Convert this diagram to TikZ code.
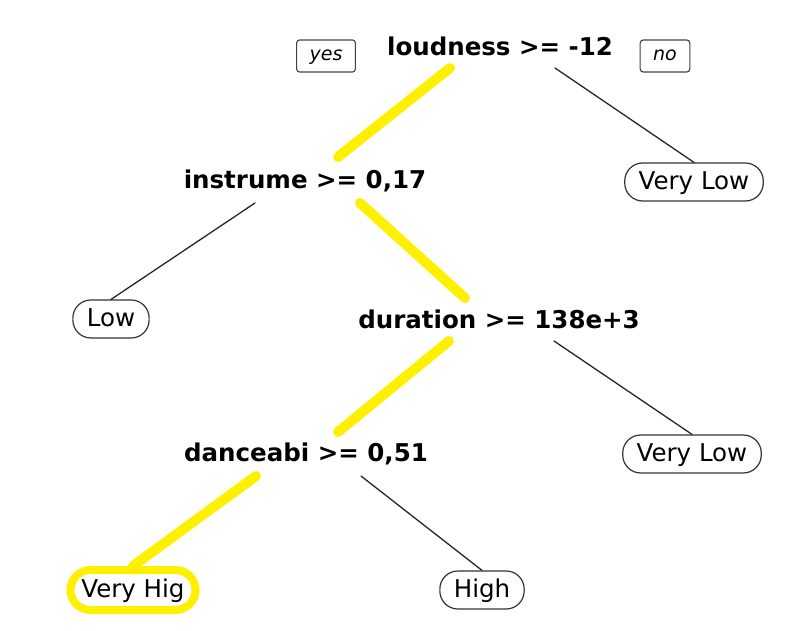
\documentclass[tikz,border=0pt]{standalone}
\usepackage{fontspec}
\setmainfont{DejaVu Sans}
\definecolor{hilite}{RGB}{255,240,0}

\begin{document}
\begin{tikzpicture}[
                x = 1pt, y = -1pt, % pixel grid, y going down
                line cap = round,
                split/.style = {font=\fontsize{24.5}{29}\selectfont\bfseries, inner sep=0pt},
                leaf/.style = {draw=black!80, line width=1.2pt, rounded corners=18pt,
                    font=\fontsize{24.5}{29}\selectfont, text height=19pt, text depth=4pt,
                    minimum height=38pt, inner xsep=14pt, inner ysep=0pt},
                tag/.style = {draw=black!75, line width=1.1pt, rounded corners=3pt,
                    font=\fontsize{19}{22}\selectfont\itshape, text height=14pt, text depth=4pt,
                    minimum height=32pt, inner xsep=13pt, inner ysep=0pt},
                branch/.style = {draw=black!85, line width=1.3pt},
                route/.style = {draw=hilite, line width=10pt}
            ]

            \useasboundingbox (0,0) rectangle (790,631);

            % splits
            \node[split] (loud) at (500,46) {loudness >= -12};
            \node[split] (instr) at (305,181) {instrume >= 0,17};
            \node[split] (dur) at (499,319) {duration >= 138e+3};
            \node[split] (dance) at (306,454) {danceabi >= 0,51};

            % leaves
            \node[leaf] (vlow1) at (694,182) {Very Low};
            \node[leaf] (low) at (111,319) {Low};
            \node[leaf] (vlow2) at (692,454) {Very Low};
            \node[leaf] (high) at (482,590) {High};
            \node[leaf, draw=hilite, line width=8pt, rounded corners=20pt,
                minimum height=40pt, inner xsep=11pt] (vhig) at (133,590) {Very Hig};

            \node[tag] (yes) at (326,56) {yes};
            \node[tag] (no) at (665,56) {no};

            \foreach \s in {loud,instr,dur,dance} {
                \coordinate (\s-l) at ([xshift=-50pt,yshift=-22pt]\s.center);
                \coordinate (\s-r) at ([xshift=55pt,yshift=-22pt]\s.center);
            }
            \coordinate (instr-t) at ([xshift=33pt,yshift=24pt]instr.center);
            \coordinate (dur-t) at ([xshift=-34pt,yshift=21pt]dur.center);
            \coordinate (dance-t) at ([xshift=32pt,yshift=22pt]dance.center);

            % plain branches
            \draw[branch] (loud-r) -- (vlow1.north);
            \draw[branch] (instr-l) -- (low.north);
            \draw[branch] (dur-r) -- (vlow2.north);
            \draw[branch] (dance-r) -- (high.north);

            % highlighted path
            \draw[route] (loud-l) -- (instr-t);
            \draw[route] (instr-r) -- (dur-t);
            \draw[route] (dur-l) -- (dance-t);
            \draw[route] (dance-l) -- (vhig.north);
        \end{tikzpicture}
\end{document}
